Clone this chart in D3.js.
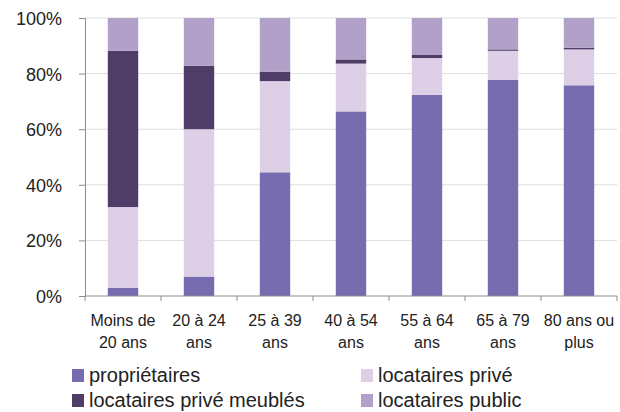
<!DOCTYPE html>
<html>
<head>
<meta charset="utf-8">
<script src="https://cdn.jsdelivr.net/npm/d3@7"></script>
<style>
  html, body { margin: 0; padding: 0; background: #fff; }
  svg { display: block; font-family: "Liberation Sans", Arial, sans-serif; }
</style>
</head>
<body>
<svg id="chart" width="620" height="412"></svg>
<script>
const categories = ["Moins de\n20 ans", "20 à 24\nans", "25 à 39\nans", "40 à 54\nans", "55 à 64\nans", "65 à 79\nans", "80 ans ou\nplus"];
const seriesNames = ["propriétaires", "locataires privé", "locataires privé meublés", "locataires public"];
const proprietaires = [3, 7, 44.5, 66.4, 72.3, 77.7, 75.8];
const locatairesPrive = [29, 53, 32.8, 17.2, 13.3, 10.5, 12.9];
const locatairesMeubles = [56.2, 22.8, 3.3, 1.5, 1.1, 0.5, 0.6];
const locatairesPublic = [11.8, 17.2, 19.4, 14.9, 13.3, 11.3, 10.7];
const yTicks = [0, 20, 40, 60, 80, 100];
const colors = ["#786cb0", "#dccfe6", "#4f3d68", "#b1a0c7"];

const seriesValues = [proprietaires, locatairesPrive, locatairesMeubles, locatairesPublic];
const rows = categories.map((c, i) => {
  const r = { cat: c };
  seriesNames.forEach((s, j) => r[s] = seriesValues[j][i]);
  return r;
});

const svg = d3.select("#chart");
const mLeft = 85, mRight = 617, mTop = 18, mBottom = 296;

const x = d3.scaleBand().domain(categories).range([mLeft, mRight]).paddingInner(0.6).paddingOuter(0.3);
const y = d3.scaleLinear().domain([0, 100]).range([mBottom, mTop]);

// gridlines
svg.append("g").selectAll("line").data(yTicks.filter(t => t > 0)).join("line")
  .attr("x1", mLeft).attr("x2", mRight)
  .attr("y1", d => y(d)).attr("y2", d => y(d))
  .attr("stroke", "#dedede").attr("stroke-width", 1);

// stacked bars
const stack = d3.stack().keys(seriesNames)(rows);
svg.append("g").selectAll("g").data(stack).join("g")
  .attr("fill", (d, i) => colors[i])
  .selectAll("rect").data(d => d).join("rect")
  .attr("x", d => x(d.data.cat))
  .attr("width", x.bandwidth())
  .attr("y", d => y(d[1]))
  .attr("height", d => y(d[0]) - y(d[1]));

// y axis
const yAxis = d3.axisLeft(y).tickValues(yTicks).tickFormat(d => d + "%").tickSize(6).tickPadding(17);
const gy = svg.append("g").attr("transform", `translate(${mLeft},0)`).call(yAxis);
gy.select(".domain").attr("stroke", "#8c8c8c");
gy.selectAll(".tick line").attr("stroke", "#8c8c8c");
gy.selectAll(".tick text").attr("font-size", 18).attr("fill", "#222")
  .attr("font-family", "Liberation Sans, Arial, sans-serif").attr("dy", "0.36em");

// x axis
const step = x.step();
const boundaries = d3.range(categories.length + 1).map(i => mLeft + i * step);
const gx = svg.append("g");
gx.append("line").attr("x1", mLeft).attr("x2", mRight).attr("y1", mBottom).attr("y2", mBottom).attr("stroke", "#8c8c8c");
gx.selectAll("line.tk").data(boundaries).join("line").attr("class", "tk")
  .attr("x1", d => d).attr("x2", d => d).attr("y1", mBottom).attr("y2", mBottom + 5)
  .attr("stroke", "#8c8c8c");
const lbl = gx.selectAll("text").data(categories).join("text")
  .attr("x", d => x(d) + x.bandwidth() / 2)
  .attr("y", 326)
  .attr("text-anchor", "middle").attr("font-size", 16).attr("fill", "#222");
lbl.selectAll("tspan").data(d => d.split("\n")).join("tspan")
  .attr("x", function() { return d3.select(this.parentNode).attr("x"); })
  .attr("dy", (d, i) => i === 0 ? 0 : 22)
  .text(d => d);

// legend
const legendPos = [[72, 382], [361, 382], [72, 407], [361, 407]];
const legOrder = [0, 1, 2, 3];
const lg = svg.append("g").selectAll("g").data(legOrder).join("g")
  .attr("transform", (d, i) => `translate(${legendPos[i][0]},${legendPos[i][1]})`);
lg.append("rect").attr("x", 0).attr("y", -13).attr("width", 12).attr("height", 13).attr("fill", d => colors[d]);
lg.append("text").attr("x", 17).attr("y", 0).attr("font-size", 20).attr("fill", "#222").text(d => seriesNames[d]);
</script>
</body>
</html>
